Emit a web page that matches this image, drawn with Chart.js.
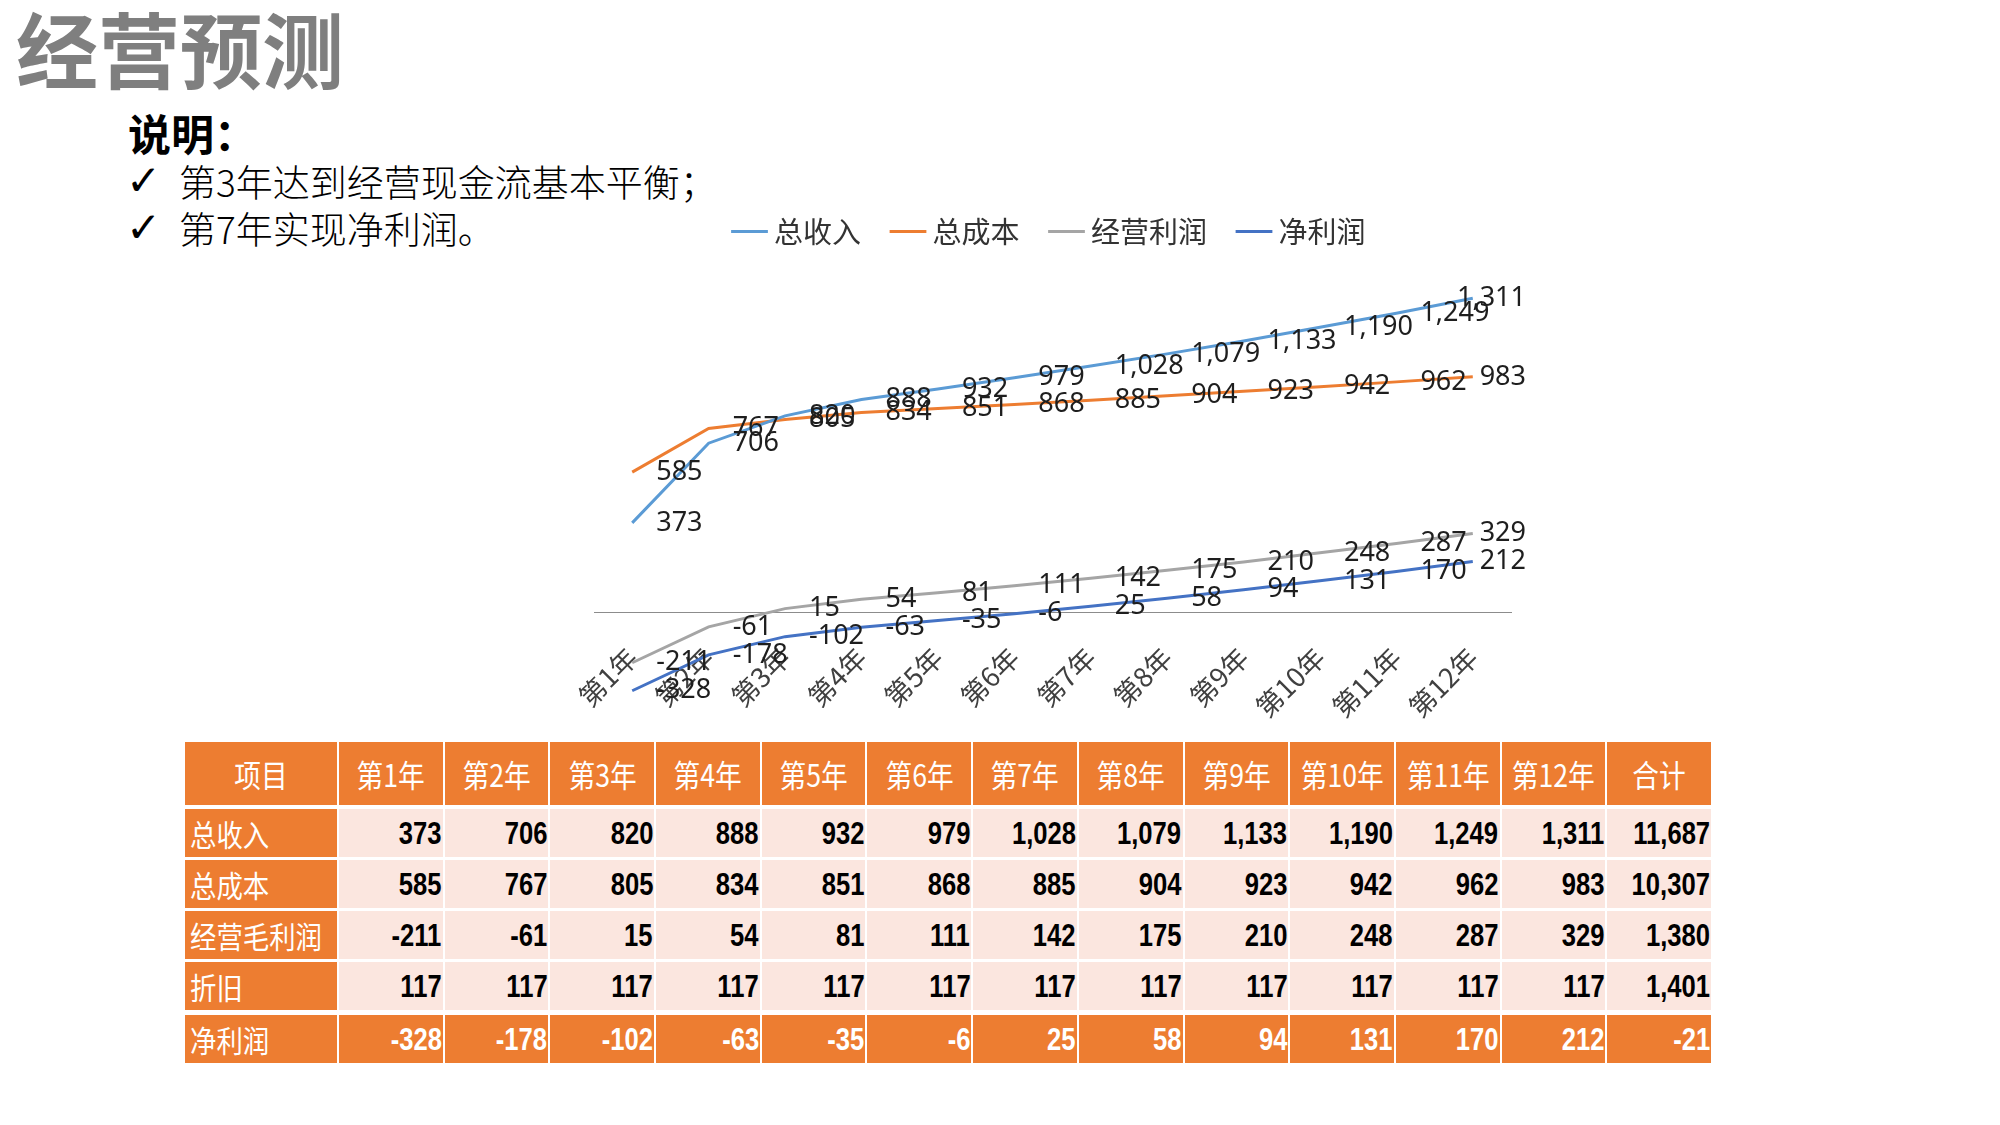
<!DOCTYPE html>
<html>
<head>
<meta charset="utf-8">
<script src="https://cdn.jsdelivr.net/npm/chart.js@4.4.1/dist/chart.umd.min.js"></script>
<style>
  body { margin: 0; background: #fff; }
  #page { position: relative; width: 2000px; height: 1125px; overflow: hidden; font-family: "Noto Sans CJK SC", sans-serif; }
  #title { position: absolute; left: 16px; top: 6px; font-size: 82px; line-height: 1; font-weight: 700; color: #7f7f7f; }
  #note { position: absolute; left: 128px; top: 111px; font-size: 43px; line-height: 1; font-weight: 700; color: #000; }
  .tick { position: absolute; left: 126px; font-size: 37px; line-height: 1; color: #000; font-weight: 300; }
  .tick span { position: absolute; left: 53px; top: 0; white-space: nowrap; }
  .tick i { font-style: normal; font-family: "DejaVu Sans", sans-serif; font-size: 42px; position: relative; top: -3px; }
  #chart { position: absolute; left: 569px; top: 180px; }
  #tbl { position: absolute; left: 185px; top: 742px; width: 1528px; border-collapse: separate; border-spacing: 0; table-layout: fixed; }
  #tbl td, #tbl th { padding: 0; border-right: 2px solid #fff; vertical-align: middle; white-space: nowrap; }
  #tbl th { background: #ed7d31; color: #fff; font-weight: 400; font-size: 31px; height: 63px; border-bottom: 4px solid #fff; text-align: center; }
  #tbl th span { display: inline-block; transform: scaleX(0.86); }
  #tbl td { height: 48px; border-bottom: 3px solid #fff; background: #fbe6df; text-align: right; font-family: "Liberation Sans", sans-serif; font-weight: 700; font-size: 32px; color: #000; padding-right: 1px; }
  #tbl td span { display: inline-block; transform: scaleX(0.8); transform-origin: right center; }
  #tbl td.name { background: #ed7d31; color: #fff; text-align: left; padding-left: 5px; font-family: "Noto Sans CJK SC", sans-serif; font-weight: 400; font-size: 30px; }
  #tbl td.name span { transform: scaleX(0.88); transform-origin: left center; }
  #tbl tr.r4 td { border-bottom-width: 5px; }
  #tbl tr.last td { background: #ed7d31; color: #fff; border-bottom: 0; }
</style>
</head>
<body>
<div id="page">
  <div id="title">经营预测</div>
  <div id="note">说明：</div>
  <div class="tick" style="top:163px"><i>✓</i><span>第3年达到经营现金流基本平衡；</span></div>
  <div class="tick" style="top:210px"><i>✓</i><span>第7年实现净利润。</span></div>
  <canvas id="chart" width="959" height="545"></canvas>
  <table id="tbl"></table>
</div>
<script>
const years = ['第1年', '第2年', '第3年', '第4年', '第5年', '第6年', '第7年', '第8年', '第9年', '第10年', '第11年', '第12年'];
const revenue = [373, 706, 820, 888, 932, 979, 1028, 1079, 1133, 1190, 1249, 1311];
const cost = [585, 767, 805, 834, 851, 868, 885, 904, 923, 942, 962, 983];
const opProfit = [-211, -61, 15, 54, 81, 111, 142, 175, 210, 248, 287, 329];
const depreciation = [117, 117, 117, 117, 117, 117, 117, 117, 117, 117, 117, 117];
const netProfit = [-328, -178, -102, -63, -35, -6, 25, 58, 94, 131, 170, 212];
// 合计 column as printed in the table
const totals = [11687, 10307, 1380, 1401, -21];
const rowNames = ['总收入', '总成本', '经营毛利润', '折旧', '净利润'];
const yMin = -400;
const yMax = 1400;

const fmt = v => v.toLocaleString('en-US');

// table under the chart
const tbl = document.getElementById('tbl');
let html = '<colgroup><col style="width:154px">' + years.map(() => '<col>').join('') + '<col></colgroup>';
html += '<tr><th><span>项目</span></th>' + years.map(y => '<th><span>' + y + '</span></th>').join('') + '<th><span>合计</span></th></tr>';
[revenue, cost, opProfit, depreciation, netProfit].forEach((row, i) => {
    const cls = i === 3 ? ' class="r4"' : (i === 4 ? ' class="last"' : '');
    html += '<tr' + cls + '><td class="name"><span>' + rowNames[i] + '</span></td>' +
        row.map(v => '<td><span>' + fmt(v) + '</span></td>').join('') +
        '<td><span>' + fmt(totals[i]) + '</span></td></tr>';
});
tbl.innerHTML = html;

// value labels to the right of each point, kept inside the canvas
const pointLabels = {
    id: 'pointLabels',
    afterDatasetsDraw(chart) {
        const ctx = chart.ctx;
        ctx.save();
        ctx.font = '27px "Noto Sans", sans-serif';
        ctx.fillStyle = '#1e1e1e';
        ctx.textBaseline = 'middle';
        chart.data.datasets.forEach((ds, i) => {
            chart.getDatasetMeta(i).data.forEach((pt, j) => {
                const text = fmt(ds.data[j]);
                const w = ctx.measureText(text).width;
                let x = pt.x + 24;
                if (x + w > chart.width - 2) x = chart.width - 2 - w;
                ctx.fillText(text, x, pt.y);
            });
        });
        ctx.restore();
    }
};

// a bit more room between the legend and the plot
const legendGap = {
    id: 'legendGap',
    beforeLayout(chart) {
        const lg = chart.legend;
        if (lg && !lg._gapPatched) {
            lg._gapPatched = true;
            const fit = lg.fit;
            lg.fit = function () { fit.call(this); this.height += 21; };
        }
    }
};

const line = (label, data, color) => ({
    label, data,
    borderColor: color, backgroundColor: color,
    borderWidth: 3, pointRadius: 0, tension: 0
});

new Chart(document.getElementById('chart'), {
    type: 'line',
    data: {
        labels: years,
        datasets: [
            line('总收入', revenue, '#5b9bd5'),
            line('总成本', cost, '#ed7d31'),
            line('经营利润', opProfit, '#a5a5a5'),
            line('净利润', netProfit, '#4472c4')
        ]
    },
    options: {
        responsive: false,
        animation: false,
        layout: { padding: { left: 25, right: 17, top: 0, bottom: 17 } },
        plugins: {
            tooltip: { enabled: false },
            legend: {
                position: 'top',
                labels: {
                    usePointStyle: true,
                    pointStyle: 'line',
                    boxWidth: 20,
                    boxHeight: 26,
                    padding: 37,
                    color: '#333',
                    font: { family: 'Noto Sans CJK SC', size: 29 }
                }
            }
        },
        scales: {
            x: {
                position: { y: 0 },
                offset: true,
                grid: { display: false, drawTicks: false },
                border: { display: true, color: '#8c8c8c', width: 1 },
                ticks: {
                    minRotation: 45, maxRotation: 45,
                    padding: 29,
                    color: '#404040',
                    font: { family: 'Noto Sans CJK SC', size: 27 }
                },
                afterFit(scale) {
                    scale.paddingLeft = 0; scale.paddingRight = 0;
                    scale.paddingTop = 0; scale.paddingBottom = 0;
                }
            },
            y: { display: false, min: yMin, max: yMax }
        }
    },
    plugins: [pointLabels, legendGap]
});
</script>
</body>
</html>
